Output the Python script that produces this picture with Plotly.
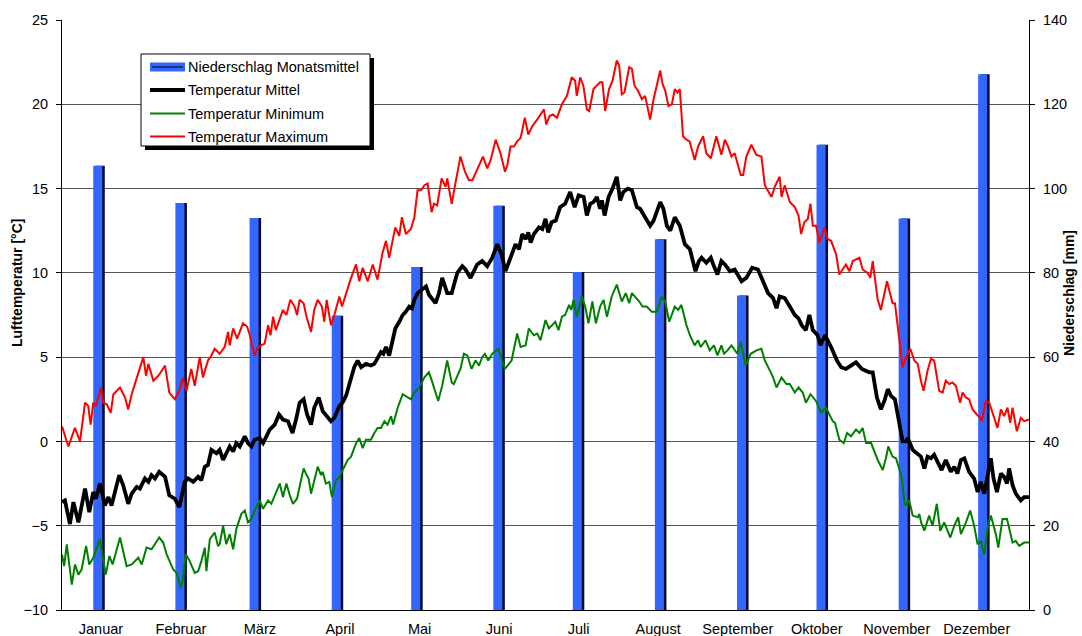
import plotly.graph_objects as go

# ---------------- data ----------------
month_names = ["Januar", "Februar", "März", "April", "Mai", "Juni", "Juli",
               "August", "September", "Oktober", "November", "Dezember"]
month_lengths = [31, 28, 31, 30, 31, 30, 31, 31, 30, 31, 30, 31]
# monthly precipitation (mm)
precip = [105.4, 96.6, 93.0, 69.8, 81.4, 95.9, 80.2, 88.0, 74.6, 110.4, 92.9, 127.1]
# day-of-year where each month label sits
label_days = [14.7, 44.9, 74.7, 104.9, 135.0, 165.0, 195.0, 225.0, 255.1, 284.9, 315.1, 345.3]

# (day of year, temperature °C)
tmax_points = [
    (0, 0.9), (2.4, -0.3), (4.9, 0.8), (6.8, 0.0), (8.7, 2.3), (9.9, 2.1), (10.8, 1.0), (11.8, 2.3),
    (12.8, 2.1), (14.7, 3.2), (15.6, 2.3), (16.9, 2.2), (18.4, 1.7), (19.4, 2.8), (21.9, 3.2), (23.8, 2.6),
    (25.0, 1.9), (26.3, 2.8), (27.5, 3.4), (28.8, 4.0), (29.4, 4.3), (30.7, 5.0), (31.7, 3.9), (32.6, 4.6),
    (34.5, 3.6), (36.4, 3.9), (38.9, 4.5), (40.5, 2.9), (42.6, 2.5), (44.5, 3.1), (45.5, 3.8), (47.0, 3.0),
    (48.8, 4.3), (50.1, 3.3), (52.0, 5.0), (53.2, 3.8), (55.1, 4.8), (56.4, 5.1), (57.6, 5.5), (59.5, 5.2),
    (61.4, 5.6), (62.7, 6.5), (63.3, 5.7), (64.6, 6.7), (66.1, 6.1), (68.3, 7.0), (69.9, 6.8), (70.9, 6.3),
    (72.7, 5.1), (74.0, 5.6), (76.5, 5.8), (77.8, 6.9), (78.7, 6.3), (79.7, 7.4), (80.7, 6.6), (82.2, 7.2),
    (83.4, 7.8), (84.7, 7.5), (86.2, 8.4), (87.8, 8.0), (88.7, 7.5), (89.7, 8.4), (91.2, 8.2), (92.3, 7.4),
    (93.1, 7.0), (94.0, 6.5), (95.2, 7.8), (96.5, 8.4), (98.1, 8.0), (99.0, 7.1), (99.9, 8.4), (100.9, 7.5),
    (101.5, 6.9), (102.8, 7.5), (104.7, 8.6), (105.7, 8.0), (107.8, 9.1), (109.1, 9.7), (111.0, 10.5),
    (112.2, 9.5), (113.5, 10.3), (115.4, 9.5), (117.3, 10.5), (118.5, 9.8), (119.1, 9.6), (121.0, 11.2),
    (122.3, 11.9), (123.5, 10.9), (125.8, 12.7), (127.3, 12.2), (128.3, 13.3), (129.8, 12.3), (131.7, 12.6),
    (133.0, 13.3), (134.2, 14.9), (135.5, 14.9), (136.8, 15.2), (138.0, 15.3), (139.5, 13.6), (140.4, 14.1),
    (141.6, 14.0), (143.3, 15.6), (144.8, 15.1), (145.4, 15.6), (147.1, 14.1), (148.6, 15.4), (150.4, 16.9),
    (152.1, 16.0), (153.6, 15.5), (154.9, 15.5), (156.1, 15.9), (157.4, 16.3), (158.9, 16.9), (160.5, 16.2),
    (161.8, 16.7), (163.7, 17.9), (165.5, 17.1), (167.2, 16.0), (168.1, 16.4), (169.3, 17.5), (170.6, 17.5),
    (171.8, 17.8), (173.1, 18.0), (174.7, 19.2), (176.0, 18.2), (177.5, 18.7), (179.4, 19.1), (181.9, 19.7),
    (182.8, 18.8), (184.0, 19.3), (185.3, 19.4), (186.8, 19.2), (188.7, 20.0), (190.6, 20.5), (192.4, 21.6),
    (193.7, 21.4), (194.3, 20.5), (195.6, 21.6), (196.8, 21.1), (198.1, 19.7), (199.0, 19.6), (200.6, 20.9),
    (201.9, 21.1), (203.1, 21.3), (204.0, 21.3), (205.0, 19.6), (206.5, 20.9), (207.8, 21.4), (209.4, 22.6),
    (210.3, 22.3), (211.3, 20.6), (212.3, 20.7), (214.1, 22.2), (215.1, 22.1), (216.1, 21.1), (217.4, 20.8),
    (218.9, 20.3), (220.1, 20.5), (222.0, 19.1), (223.3, 20.3), (225.8, 22.0), (226.7, 21.2), (227.7, 20.8),
    (228.9, 19.9), (230.2, 20.0), (231.3, 20.9), (232.3, 20.7), (233.2, 20.9), (234.4, 18.1), (235.7, 17.9),
    (236.9, 17.8), (238.8, 16.7), (240.1, 17.5), (242.0, 18.1), (243.2, 17.1), (244.9, 16.8), (247.0, 18.1),
    (248.9, 17.0), (250.2, 17.9), (251.4, 17.5), (252.7, 16.9), (253.9, 17.1), (256.2, 15.8), (257.1, 15.8),
    (258.3, 16.9), (260.2, 17.6), (262.1, 17.0), (264.0, 16.9), (265.3, 15.2), (267.8, 14.5), (269.0, 15.1),
    (270.9, 15.7), (271.6, 14.5), (272.8, 15.2), (274.7, 14.2), (276.6, 13.9), (278.0, 13.4), (279.0, 12.3),
    (280.2, 13.0), (281.5, 13.2), (282.5, 14.1), (283.4, 12.8), (284.6, 12.8), (285.9, 11.8), (287.8, 12.7),
    (289.0, 12.0), (290.3, 11.9), (292.2, 11.1), (293.4, 9.9), (294.7, 10.2), (295.9, 10.5), (297.2, 10.1),
    (298.5, 10.7), (301.0, 10.9), (302.2, 10.2), (304.1, 10.0), (305.1, 9.7), (306.0, 10.7), (307.9, 8.4),
    (309.1, 7.8), (310.7, 9.0), (311.4, 9.5), (313.5, 8.2), (314.4, 8.2), (315.4, 6.9), (317.3, 4.4),
    (318.6, 5.0), (320.2, 5.5), (321.7, 4.8), (323.0, 4.6), (324.2, 3.6), (325.2, 3.0), (326.7, 4.2),
    (328.0, 4.9), (329.2, 4.8), (331.1, 3.0), (332.4, 2.9), (333.6, 3.6), (334.9, 3.4), (336.1, 3.5),
    (337.4, 3.3), (339.0, 2.3), (339.9, 2.9), (341.2, 2.6), (342.4, 2.5), (343.7, 1.9), (345.3, 1.6),
    (346.6, 1.4), (347.2, 1.2), (348.7, 2.4), (350.0, 2.3), (351.2, 1.7), (353.1, 0.8), (354.4, 1.9),
    (355.6, 1.5), (356.9, 2.0), (357.9, 1.1), (358.8, 2.0), (360.4, 0.6), (361.9, 1.4), (363.2, 1.2),
    (365.0, 1.3),
]

tmean_points = [
    (0, -3.6), (1.1, -3.5), (3.0, -4.9), (4.3, -3.6), (6.2, -4.8), (7.4, -3.9), (8.7, -2.8), (10.3, -4.2),
    (11.8, -3.0), (12.8, -3.4), (14.3, -2.5), (16.2, -3.8), (17.5, -3.3), (18.7, -3.8), (20.0, -3.0),
    (21.6, -2.0), (23.1, -2.6), (25.0, -3.7), (26.3, -3.1), (28.2, -2.7), (29.4, -2.8), (31.3, -2.2),
    (32.6, -2.4), (33.8, -2.0), (35.1, -2.2), (36.7, -1.8), (38.9, -2.1), (40.5, -3.2), (42.6, -3.4),
    (44.3, -3.9), (45.8, -2.8), (46.3, -2.4), (47.6, -2.2), (49.5, -2.4), (51.4, -2.1), (52.6, -2.3),
    (53.9, -1.5), (55.1, -1.4), (56.4, -0.5), (58.3, -0.7), (59.5, -0.5), (60.8, -1.1), (63.3, -0.3),
    (64.6, -0.6), (65.8, -0.1), (67.1, -0.3), (69.0, 0.3), (70.2, -0.1), (71.5, -0.3), (72.7, 0.1),
    (74.6, 0.2), (75.9, -0.1), (78.4, 0.7), (80.3, 1.0), (81.9, 1.6), (83.4, 1.3), (85.3, 1.2), (87.0, 0.5),
    (88.5, 1.4), (89.7, 2.3), (91.2, 2.5), (92.5, 1.6), (94.0, 1.0), (95.2, 2.0), (96.9, 2.6), (98.4, 1.8),
    (101.5, 1.2), (102.8, 1.4), (104.7, 2.1), (105.9, 2.3), (107.2, 2.7), (109.1, 3.7), (110.3, 4.4),
    (111.6, 4.8), (112.9, 4.4), (114.7, 4.6), (116.6, 4.5), (117.9, 4.6), (119.1, 4.9), (120.4, 5.3),
    (121.3, 5.2), (122.3, 5.6), (123.5, 5.1), (124.8, 6.0), (125.8, 6.7), (127.3, 7.1), (128.6, 7.5),
    (129.8, 7.7), (131.1, 8.0), (132.1, 7.9), (133.0, 8.4), (134.2, 8.8), (136.1, 9.0), (137.4, 9.2),
    (138.5, 8.7), (139.8, 8.4), (141.0, 8.2), (142.3, 8.8), (143.5, 9.7), (145.4, 8.8), (147.1, 8.8),
    (149.2, 10.0), (151.1, 10.4), (152.3, 10.2), (154.2, 9.7), (156.7, 10.5), (158.6, 10.7), (160.5, 10.4),
    (162.4, 10.9), (164.3, 11.7), (165.9, 11.1), (167.4, 10.1), (169.3, 10.9), (171.2, 11.7), (172.5, 11.4),
    (173.7, 12.3), (175.0, 12.0), (176.0, 12.4), (176.9, 11.8), (178.1, 12.3), (180.0, 12.7), (181.3, 12.6),
    (182.5, 13.2), (183.5, 12.4), (184.8, 13.0), (186.4, 13.1), (188.0, 13.9), (189.9, 14.1), (191.8, 14.8),
    (193.5, 13.9), (195.0, 14.6), (196.9, 14.5), (198.1, 13.4), (199.4, 14.1), (200.6, 14.2), (201.9, 14.5),
    (203.1, 13.8), (203.8, 14.3), (204.8, 13.4), (206.3, 14.5), (207.8, 15.0), (209.4, 15.7), (210.7, 14.3),
    (211.9, 14.8), (213.6, 15.0), (215.1, 14.9), (217.0, 13.9), (218.2, 13.8), (220.1, 13.3), (222.0, 12.8),
    (223.3, 13.1), (224.5, 13.6), (225.8, 14.2), (227.0, 13.8), (228.3, 12.8), (229.6, 12.5), (231.3, 13.3),
    (233.2, 12.8), (235.1, 11.7), (237.0, 11.4), (237.8, 10.9), (239.1, 10.1), (240.4, 10.7), (241.4, 10.9),
    (243.2, 10.6), (244.9, 10.9), (245.8, 10.5), (247.4, 9.9), (248.9, 10.7), (250.2, 10.5), (252.1, 10.1),
    (253.9, 10.2), (256.5, 9.5), (258.3, 9.7), (260.5, 10.3), (262.7, 10.2), (264.6, 9.5), (266.5, 8.8),
    (268.4, 8.5), (269.7, 7.9), (270.9, 8.6), (272.8, 8.5), (274.7, 8.0), (276.6, 7.5), (278.0, 7.3),
    (279.2, 6.9), (280.8, 6.6), (282.1, 7.5), (283.4, 6.6), (285.2, 6.3), (286.3, 5.7), (288.0, 6.3),
    (290.3, 5.6), (292.5, 4.8), (294.1, 4.4), (295.9, 4.3), (297.8, 4.5), (299.7, 4.7), (301.9, 4.3),
    (303.5, 4.2), (304.7, 4.1), (306.0, 4.1), (307.6, 2.6), (309.1, 1.9), (310.4, 2.4), (311.7, 3.1),
    (312.9, 2.7), (314.4, 2.5), (316.1, 1.0), (317.3, 0.0), (318.6, 0.0), (319.2, 0.2), (321.1, -0.5),
    (322.7, -0.7), (324.2, -0.9), (325.5, -1.6), (326.7, -0.9), (328.0, -1.0), (329.2, -0.8), (331.1, -1.4),
    (332.0, -1.7), (333.6, -1.1), (335.5, -1.8), (336.8, -1.5), (338.0, -1.9), (339.3, -1.1), (340.6, -1.0),
    (342.4, -1.8), (344.3, -2.2), (345.6, -3.0), (346.8, -2.4), (348.1, -3.1), (349.4, -2.1), (350.6, -1.0),
    (351.6, -2.2), (352.9, -3.0), (354.4, -1.9), (355.6, -2.1), (356.7, -2.5), (357.5, -1.6), (358.8, -2.6),
    (360.0, -3.1), (361.9, -3.5), (363.2, -3.3), (365.0, -3.3),
]

tmin_points = [
    (0, -6.7), (0.8, -7.4), (1.8, -6.1), (3.7, -8.5), (4.9, -7.3), (6.2, -7.9), (7.4, -7.6), (9.1, -6.2),
    (10.3, -7.3), (11.8, -6.9), (14.3, -5.8), (16.5, -7.9), (17.9, -6.8), (19.1, -7.3), (21.9, -5.7),
    (24.4, -7.4), (26.3, -7.3), (28.8, -6.9), (30.1, -7.3), (31.9, -6.3), (33.8, -6.4), (36.7, -5.7),
    (38.2, -6.0), (39.5, -6.7), (42.0, -7.6), (43.3, -7.8), (44.8, -8.7), (45.6, -8.2), (46.7, -6.7),
    (48.2, -7.1), (50.1, -7.8), (51.4, -7.7), (52.6, -7.1), (53.9, -6.3), (54.5, -7.7), (55.8, -5.8),
    (57.6, -5.4), (58.9, -6.2), (59.5, -6.1), (60.8, -5.0), (62.0, -6.1), (63.3, -5.5), (64.6, -6.4),
    (65.8, -5.2), (67.7, -4.3), (69.0, -4.1), (70.2, -4.8), (71.5, -4.6), (72.7, -4.1), (74.6, -3.5),
    (75.9, -4.0), (77.8, -3.5), (79.0, -3.7), (80.3, -3.2), (82.2, -2.5), (83.4, -3.3), (84.7, -2.5),
    (86.0, -3.2), (87.2, -3.7), (88.7, -3.4), (90.4, -2.2), (91.2, -1.6), (92.3, -2.0), (93.1, -2.2),
    (94.0, -3.1), (95.2, -2.4), (96.5, -1.5), (97.8, -2.0), (98.4, -1.8), (99.6, -2.5), (100.9, -2.4),
    (101.9, -3.3), (103.4, -2.3), (104.7, -2.1), (105.9, -1.7), (107.8, -1.1), (109.1, -0.9), (111.0, -0.1),
    (112.2, 0.2), (113.5, -0.4), (114.7, 0.1), (116.6, 0.1), (117.9, 0.5), (119.1, 0.8), (120.4, 0.8),
    (121.7, 1.2), (122.9, 1.0), (124.2, 1.5), (125.0, 1.0), (126.7, 2.0), (128.6, 2.8), (129.8, 2.7),
    (131.7, 2.5), (133.0, 2.9), (134.9, 3.2), (136.8, 3.8), (138.5, 4.1), (139.8, 3.5), (142.0, 2.4),
    (143.5, 3.3), (145.4, 4.8), (147.1, 3.5), (147.9, 3.4), (149.8, 4.1), (150.4, 4.3), (151.7, 5.2),
    (153.0, 5.1), (154.6, 4.3), (156.1, 4.8), (157.4, 4.5), (158.6, 5.0), (159.6, 5.2), (160.9, 4.8),
    (162.4, 5.2), (164.7, 5.5), (165.5, 5.1), (167.2, 4.3), (168.7, 4.6), (169.7, 4.8), (171.8, 6.4),
    (173.1, 5.6), (175.0, 5.7), (176.2, 6.7), (178.1, 6.3), (179.4, 6.4), (180.6, 6.0), (182.5, 7.2),
    (183.8, 6.7), (184.9, 6.9), (186.2, 7.1), (187.4, 6.6), (188.7, 7.4), (189.9, 7.5), (191.4, 8.1),
    (192.2, 7.8), (193.1, 8.4), (194.3, 7.4), (196.2, 8.6), (197.5, 8.0), (198.7, 7.0), (200.2, 8.3),
    (201.5, 7.0), (203.1, 8.0), (204.4, 8.4), (205.7, 7.4), (207.5, 8.6), (209.4, 9.3), (211.3, 8.3),
    (212.8, 8.8), (214.1, 8.2), (215.1, 8.8), (216.3, 8.6), (217.9, 8.3), (219.1, 8.0), (220.7, 8.0),
    (222.6, 7.7), (224.5, 7.7), (226.4, 8.6), (227.7, 8.3), (229.2, 7.1), (231.3, 8.0), (232.6, 7.8),
    (233.8, 8.1), (235.7, 6.9), (237.0, 6.3), (238.8, 5.7), (240.1, 6.0), (241.1, 5.6), (242.9, 6.0),
    (244.5, 5.4), (246.1, 5.7), (247.4, 5.1), (248.9, 5.7), (249.9, 5.2), (251.2, 5.4), (252.7, 5.7),
    (254.9, 5.2), (256.2, 5.9), (258.0, 4.5), (260.0, 5.2), (262.1, 5.4), (264.0, 5.5), (265.3, 4.8),
    (267.2, 4.2), (268.4, 3.8), (269.7, 3.2), (271.6, 3.8), (273.4, 3.4), (274.7, 3.4), (276.6, 2.9),
    (278.0, 3.2), (279.6, 2.9), (280.8, 2.3), (282.5, 2.8), (284.6, 2.4), (286.5, 1.7), (288.4, 2.0),
    (290.9, 1.2), (291.8, 1.1), (293.4, 0.1), (295.1, -0.1), (296.3, 0.5), (297.8, 0.3), (299.7, 0.7),
    (301.0, 0.5), (302.2, 0.8), (303.5, -0.1), (305.4, -0.1), (307.9, -1.1), (309.8, -1.7), (311.0, -1.0),
    (311.9, -0.3), (313.5, -0.9), (314.8, -1.0), (316.1, -1.6), (316.9, -2.1), (318.2, -3.8), (319.8, -3.5),
    (321.1, -4.4), (323.0, -4.5), (323.6, -4.3), (324.3, -4.8), (325.5, -5.3), (327.3, -4.4), (328.6, -5.0),
    (330.2, -3.7), (331.5, -5.3), (333.0, -4.8), (335.3, -5.7), (336.8, -5.0), (338.3, -4.5), (339.3, -5.5),
    (341.2, -4.8), (342.8, -4.1), (344.3, -5.0), (345.6, -6.1), (346.8, -5.9), (348.1, -6.7), (349.4, -5.1),
    (350.6, -4.4), (352.5, -5.5), (353.4, -6.3), (355.0, -4.6), (356.7, -4.6), (358.8, -6.0), (360.0, -5.9),
    (361.3, -6.2), (363.2, -6.0), (365.0, -6.0),
]

# ---------------- derived ----------------
month_starts = []
acc = 0
for n in month_lengths:
    month_starts.append(acc)
    acc += n
BAR_OFFSET_DAYS = 13.5
bar_x = [s + BAR_OFFSET_DAYS for s in month_starts]

FONT = "Liberation Sans, Arial, sans-serif"
TXT = 14.5
W, H = 1082, 636
ML, MT = 62, 20
PW, PH = 967, 590
MR, MB = W - ML - PW, H - MT - PH


def px(x):
    """figure x pixel -> paper coordinate"""
    return (x - ML) / PW


def py(y):
    """figure y pixel -> paper coordinate"""
    return (MT + PH - y) / PH


def unzip(pts):
    return [p[0] for p in pts], [p[1] for p in pts]


fig = go.Figure()

# bar "shadow" (3D effect) and bars on base axis (right side)
fig.add_trace(go.Bar(x=[b + 0.95 for b in bar_x], y=precip, width=3.4, yaxis="y",
                     marker=dict(color="#0b0b2e", line=dict(width=0)), showlegend=False,
                     hoverinfo="skip"))
fig.add_trace(go.Bar(x=bar_x, y=precip, width=3.4, yaxis="y", name="Niederschlag Monatsmittel",
                     marker=dict(color="#3366ff", line=dict(width=0)), showlegend=False))

xs, ys = unzip(tmin_points)
fig.add_trace(go.Scatter(x=xs, y=ys, yaxis="y2", mode="lines", name="Temperatur Minimum",
                         line=dict(color="#008000", width=2), showlegend=False))
xs, ys = unzip(tmax_points)
fig.add_trace(go.Scatter(x=xs, y=ys, yaxis="y2", mode="lines", name="Temperatur Maximum",
                         line=dict(color="#ff0000", width=2), showlegend=False))
xs, ys = unzip(tmean_points)
fig.add_trace(go.Scatter(x=xs, y=ys, yaxis="y2", mode="lines", name="Temperatur Mittel",
                         line=dict(color="#000000", width=3.8), showlegend=False))

# ---------------- custom legend ----------------
shapes = []
annotations = []
LX0, LX1, LY0, LY1 = 141, 370, 54, 146
shapes.append(dict(type="rect", xref="paper", yref="paper", x0=px(LX0 + 4), x1=px(LX1 + 4),
                   y0=py(LY1 + 4), y1=py(LY0 + 4), fillcolor="black", line=dict(width=0), layer="above"))
shapes.append(dict(type="rect", xref="paper", yref="paper", x0=px(LX0), x1=px(LX1),
                   y0=py(LY1), y1=py(LY0), fillcolor="white", line=dict(color="black", width=1),
                   layer="above"))
entries = [
    ("Niederschlag Monatsmittel", "bar", 67),
    ("Temperatur Mittel", "#000000", 90),
    ("Temperatur Minimum", "#008000", 113.5),
    ("Temperatur Maximum", "#ff0000", 136.5),
]
for label, style, yy in entries:
    if style == "bar":
        shapes.append(dict(type="rect", xref="paper", yref="paper", x0=px(150), x1=px(185),
                           y0=py(yy + 4.5), y1=py(yy - 4.5), fillcolor="#3366ff",
                           line=dict(width=0), layer="above"))
        shapes.append(dict(type="line", xref="paper", yref="paper", x0=px(152), x1=px(183),
                           y0=py(yy), y1=py(yy), line=dict(color="#1d3380", width=2), layer="above"))
    else:
        shapes.append(dict(type="line", xref="paper", yref="paper", x0=px(150), x1=px(185),
                           y0=py(yy), y1=py(yy),
                           line=dict(color=style, width=3.8 if style == "#000000" else 2),
                           layer="above"))
    annotations.append(dict(xref="paper", yref="paper", x=px(186), y=py(yy), text=label,
                            showarrow=False, xanchor="left", yanchor="middle",
                            font=dict(family=FONT, size=TXT, color="black")))

# axis titles (placed where the reference has them)
annotations.append(dict(xref="paper", yref="paper", x=px(17), y=py(283), text="Lufttemperatur [°C]",
                        textangle=-90, showarrow=False, xanchor="center", yanchor="middle",
                        font=dict(family=FONT, size=14, color="black", weight="bold")))
annotations.append(dict(xref="paper", yref="paper", x=px(1069), y=py(293), text="Niederschlag [mm]",
                        textangle=-90, showarrow=False, xanchor="center", yanchor="middle",
                        font=dict(family=FONT, size=14, color="black", weight="bold")))

fig.update_layout(
    width=W, height=H,
    margin=dict(l=ML, r=MR, t=MT, b=MB, pad=0),
    paper_bgcolor="white", plot_bgcolor="white",
    barmode="overlay",
    showlegend=False,
    font=dict(family=FONT, size=TXT, color="black"),
    xaxis=dict(range=[0, 365], tickvals=label_days, ticktext=month_names, ticks="",
               showgrid=False, zeroline=False, showline=True, linecolor="black", linewidth=1,
               ticklabelstandoff=6, automargin=False,
               tickfont=dict(family=FONT, size=TXT, color="black")),
    yaxis=dict(range=[0, 140], dtick=20, side="right", showgrid=False, zeroline=False,
               showline=True, linecolor="black", linewidth=1, ticks="outside", ticklen=5,
               tickcolor="black", ticklabelstandoff=5, automargin=False,
               tickfont=dict(family=FONT, size=TXT, color="black")),
    yaxis2=dict(range=[-10, 25], dtick=5, side="left", overlaying="y", showgrid=True,
                gridcolor="#555555", gridwidth=1, zeroline=False, showline=True,
                linecolor="black", linewidth=1, ticks="outside", ticklen=5, tickcolor="black",
                ticklabelstandoff=5, automargin=False,
                tickfont=dict(family=FONT, size=TXT, color="black")),
    shapes=shapes,
    annotations=annotations,
)

# remove the browser's default 8px body margin so the 1082x636 figure fills the page exactly
fig.write_html("out.html",
               config={"displayModeBar": False},
               post_script="document.body.style.margin='0';document.body.style.overflow='hidden';")
